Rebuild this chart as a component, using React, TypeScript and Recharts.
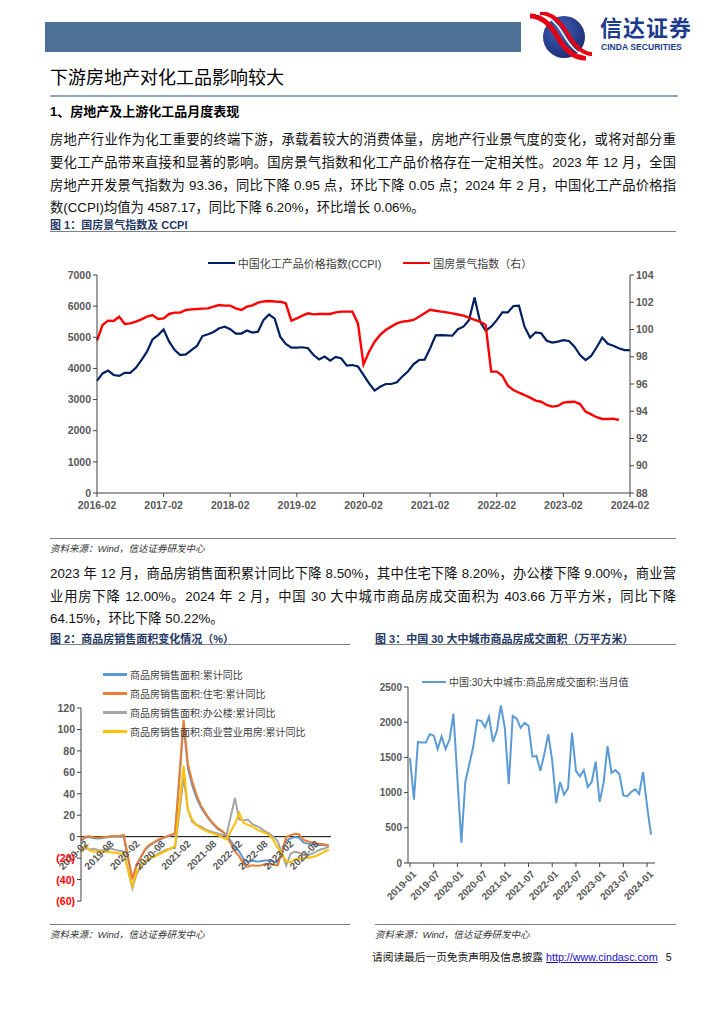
import React from 'react';
import { LineChart, Line, XAxis, YAxis, ReferenceLine } from 'recharts';

const SANS = '"Liberation Sans", Arial, "Noto Sans CJK SC", sans-serif';
const AXIS_TXT = '#595959';
const AXIS_LINE = '#404040';

function monthLabels(startYear: number, startMonth: number, count: number): string[] {
  const out: string[] = [];
  for (let k = 0; k < count; k++) {
    const t = startYear * 12 + (startMonth - 1) + k;
    const y = Math.floor(t / 12);
    const m = (t % 12) + 1;
    out.push(`${y}-${m < 10 ? '0' + m : m}`);
  }
  return out;
}

// ---------- Figure 1: CCPI & 国房景气指数 (2016-02 .. 2024-02) ----------
const fig1Months = monthLabels(2016, 2, 97);
const fig1Names = ['中国化工产品价格指数(CCPI)', '国房景气指数（右）'];
const ccpi = [
  3600, 3840, 3930, 3790, 3760, 3860, 3860, 4020, 4270, 4540, 4930, 5070,
  5250, 4860, 4590, 4430, 4450, 4590, 4720, 5040, 5100, 5170, 5290, 5340,
  5260, 5120, 5120, 5220, 5150, 5180, 5560, 5730, 5600, 5020, 4785, 4670,
  4670, 4680, 4650, 4430, 4290, 4380, 4250, 4370, 4320, 4090, 4110, 4060,
  3790, 3520, 3290, 3410, 3500, 3500, 3555, 3740, 3900, 4130, 4270, 4280,
  4650, 5060, 5070, 5060, 5050, 5260, 5340, 5550, 6280, 5500, 5210, 5340,
  5550, 5800, 5800, 6000, 6015, 5340, 4990, 5160, 5130, 4890, 4830, 4860,
  4910, 4880, 4700, 4430, 4270, 4400, 4680, 4990, 4790, 4730, 4650, 4590,
  4587,
];
const housingIndex = [
  99.18, 100.33, 100.65, 100.62, 100.94, 100.4, 100.45, 100.58, 100.75, 100.94, 101.06, 100.77,
  100.82, 101.14, 101.24, 101.24, 101.43, 101.48, 101.5, 101.53, 101.55, 101.68, 101.8, 101.75,
  101.75, 101.55, 101.43, 101.68, 101.77, 101.97, 102.06, 102.09, 102.06, 102.04, 101.92, 100.65,
  100.82, 101.02, 101.19, 101.11, 101.14, 101.14, 101.14, 101.26, 101.31, 101.31, 101.31, 100.45,
  97.44, 98.37, 99.11, 99.6, 99.96, 100.21, 100.45, 100.58, 100.62, 100.7, 100.94, 101.19,
  101.45, 101.38, 101.31, 101.26, 101.18, 101.1, 101.02, 100.87, 100.7, 100.58, 100.33, 96.91,
  96.91, 96.61, 95.88, 95.56, 95.36, 95.19, 95.0, 94.78, 94.7, 94.46, 94.34, 94.39,
  94.63, 94.68, 94.7, 94.53, 93.97, 93.77, 93.56, 93.43, 93.43, 93.46, 93.36, null,
  null,
];
const fig1LeftTicks = [0, 1000, 2000, 3000, 4000, 5000, 6000, 7000];
const fig1RightTicks = [88, 90, 92, 94, 96, 98, 100, 102, 104];
const fig1Data = fig1Months.map((m, i) => ({ m, ccpi: ccpi[i], idx: housingIndex[i] }));

// ---------- Figure 2: 商品房销售面积累计同比 (2019-02 .. 2023-12) ----------
const fig2Months = monthLabels(2019, 2, 59);
const fig2Names = [
  '商品房销售面积:累计同比',
  '商品房销售面积:住宅:累计同比',
  '商品房销售面积:办公楼:累计同比',
  '商品房销售面积:商业营业用房:累计同比',
];
const fig2Colors = ['#5B9BD5', '#ED7D31', '#A5A5A5', '#FFC000'];
const salesTotal = [
  -3.6, -0.9, -0.3, -1.6, -1.8, -1.3, -0.6, -0.1, 0.1, 0.2, -0.1,
  null, -39.9, -26.3, -19.3, -12.3, -8.4, -5.8, -3.3, -1.8, 0.0, 1.3, 2.6,
  null, 104.9, 63.8, 48.1, 36.3, 27.7, 21.5, 15.9, 11.3, 7.3, 4.8, 1.9,
  null, -9.6, -13.8, -20.9, -23.6, -22.2, -23.1, -23.0, -22.2, -22.3, -23.3, -24.3,
  null, -3.6, -1.8, -0.4, -0.9, -5.3, -6.5, -7.1, -7.5, -7.8, -8.0, -8.5,
];
const salesResidential = [
  -3.2, 0.0, 0.3, -0.6, -1.0, -0.6, 0.0, 0.5, 0.6, 0.6, 1.5,
  null, -39.2, -25.9, -19.3, -11.6, -7.6, -5.2, -2.9, -1.2, 0.3, 1.5, 3.2,
  null, 108.9, 67.8, 51.6, 39.1, 29.4, 22.8, 16.7, 12.0, 7.9, 5.3, 1.1,
  null, -13.8, -18.4, -25.5, -28.1, -26.6, -27.1, -26.8, -25.7, -25.5, -26.2, -26.8,
  null, -0.6, 1.4, 2.7, 2.3, -2.8, -4.3, -5.5, -6.3, -6.8, -7.3, -8.2,
];
const salesOffice = [
  -14.5, -10.8, -12.0, -11.4, -12.5, -13.0, -11.4, -11.0, -12.3, -13.2, -14.0,
  null, -48.3, -35.0, -28.1, -24.0, -21.0, -18.3, -16.0, -14.0, -12.0, -11.0, -10.4,
  null, 55.0, 25.0, 14.0, 11.0, 9.5, 7.0, 5.0, 4.0, 3.0, 1.5, 1.2,
  null, 36.0, 16.0, 15.0, 16.0, 12.0, 10.0, 8.0, 5.0, 3.0, 0.0, -4.0,
  null, -27.0, -16.0, -14.0, -15.0, -17.0, -17.0, -16.0, -14.0, -12.0, -11.0, -9.0,
];
const salesCommercial = [
  -14.0, -8.0, -12.5, -14.0, -13.5, -14.0, -14.0, -14.5, -15.0, -15.6, -16.0,
  null, -46.0, -33.0, -27.0, -23.0, -20.0, -19.0, -17.0, -15.0, -13.0, -11.0, -8.7,
  null, 66.0, 25.0, 16.0, 11.0, 8.0, 6.0, 4.0, 3.0, 1.5, -0.5, -2.6,
  null, 12.0, 22.0, 13.0, 11.0, 9.7, 7.0, 5.0, 3.5, 1.5, -3.0, -10.0,
  null, -23.0, -24.0, -21.0, -21.0, -20.0, -20.0, -19.0, -18.0, -16.0, -14.0, -12.0,
];
const fig2Ticks = [-60, -40, -20, 0, 20, 40, 60, 80, 100, 120];
const fig2Data = fig2Months.map((m, i) => ({
  m,
  s0: salesTotal[i],
  s1: salesResidential[i],
  s2: salesOffice[i],
  s3: salesCommercial[i],
}));

// ---------- Figure 3: 30大中城市商品房成交面积 (2019-01 .. 2024-02) ----------
const fig3Months = monthLabels(2019, 1, 62);
const fig3Name = '中国:30大中城市:商品房成交面积:当月值';
const area30 = [
  1490, 900, 1720, 1710, 1710, 1830, 1810, 1620, 1800, 1620, 1750, 2120,
  1200, 290, 1150, 1400, 1650, 2030, 2020, 1930, 2080, 1720, 1880, 2240,
  1920, 1120, 2090, 2050, 1920, 1990, 1950, 1510, 1520, 1310, 1550, 1830,
  1450, 850, 1150, 970, 1060, 1850, 1310, 1230, 1320, 1080, 1150, 1440,
  870, 1140, 1660, 1280, 1320, 1260, 960, 950, 1010, 1050, 980, 1290,
  811, 404,
];
const fig3Ticks = [0, 500, 1000, 1500, 2000, 2500];
const fig3Data = fig3Months.map((m, i) => ({ m, v: area30[i] }));

// ---------- layout constants ----------
const FIG2_TOP_MARGIN = 58;
const FIG2_PLOT_H = 193;
const FIG2_ZERO_OFFSET = (FIG2_PLOT_H * (0 - fig2Ticks[0])) / (fig2Ticks[fig2Ticks.length - 1] - fig2Ticks[0]);

const tickStyle = (size: number) => ({
  fontSize: size,
  fontWeight: 700,
  fill: AXIS_TXT,
  fontFamily: SANS,
});

const Fig2XTick = (props: any) => {
  const { x, y, payload } = props;
  return (
    <g transform={`translate(${x + 5},${y - FIG2_ZERO_OFFSET + 5})`}>
      <text textAnchor="end" transform="rotate(-45)" dy={4} {...tickStyle(10)}>
        {payload.value}
      </text>
    </g>
  );
};

const Fig2YTick = (props: any) => {
  const { x, y, payload } = props;
  const v = payload.value as number;
  const neg = v < 0;
  return (
    <text x={x} y={y} dy={4} textAnchor="end" {...tickStyle(10.5)} fill={neg ? '#FF0000' : AXIS_TXT}>
      {neg ? `(${Math.abs(v)})` : String(v)}
    </text>
  );
};

const Fig3XTick = (props: any) => {
  const { x, y, payload } = props;
  return (
    <g transform={`translate(${x + 4},${y + 5})`}>
      <text textAnchor="end" transform="rotate(-45)" dy={4} {...tickStyle(10)}>
        {payload.value}
      </text>
    </g>
  );
};

const abs = (left: number, top: number, extra: React.CSSProperties = {}): React.CSSProperties => ({
  position: 'absolute',
  left,
  top,
  ...extra,
});

const LegendItem = ({ color, label, w, size }: { color: string; label: string; w: number; size: number }) => (
  <span style={{ display: 'inline-flex', alignItems: 'center', whiteSpace: 'nowrap' }}>
    <span style={{ display: 'inline-block', width: w, height: 2.5, background: color, marginRight: 3 }} />
    <span style={{ fontSize: size, color: '#404040' }}>{label}</span>
  </span>
);

const Logo = () => (
  <svg width={70} height={50} style={abs(526, 12)}>
    <defs>
      <radialGradient id="logoG" cx="0.4" cy="0.35" r="0.8">
        <stop offset="0" stopColor="#3f62b5" />
        <stop offset="1" stopColor="#15246b" />
      </radialGradient>
      <clipPath id="logoC">
        <rect x="0" y="0" width="70" height="50" />
      </clipPath>
    </defs>
    <circle cx={38} cy={25} r={21} fill="url(#logoG)" />
    <g clipPath="url(#logoC)" fill="none" strokeLinecap="butt">
      <path d="M4,4 C16,4 24,12 31,24 C38,36 46,46 60,46" stroke="#e60012" strokeWidth={5} />
      <path d="M10,2 C22,2 30,10 37,22 C44,34 52,44 64,44" stroke="#fff" strokeWidth={1.5} />
      <path d="M14,1 C26,1 34,9 41,21 C48,33 56,42 66,42" stroke="#e60012" strokeWidth={4} />
    </g>
  </svg>
);

const paraLine = (top: number, text: string, justify = true) => (
  <div
    style={abs(50, top, {
      width: 626,
      fontSize: 13.3,
      lineHeight: '18px',
      whiteSpace: 'nowrap',
      textAlign: justify ? 'justify' : 'left',
      textAlignLast: justify ? 'justify' : 'auto',
      color: '#111',
    })}
  >
    {text}
  </div>
);

const hline = (left: number, top: number, width: number, color = '#808080', h = 1.3) => (
  <div style={abs(left, top, { width, height: h, background: color })} />
);

const source = (left: number, top: number) => (
  <div style={abs(left, top, { fontSize: 9.5, fontStyle: 'italic', color: '#333', whiteSpace: 'nowrap' })}>
    资料来源：Wind，信达证券研发中心
  </div>
);

const figTitle = (left: number, top: number, text: string) => (
  <div style={abs(left, top, { fontSize: 11, fontWeight: 700, color: '#1f3864', whiteSpace: 'nowrap' })}>{text}</div>
);

export default function App() {
  return (
    <div
      style={{
        position: 'absolute',
        left: 0,
        top: 0,
        width: 724,
        height: 1024,
        background: '#fff',
        fontFamily: SANS,
        overflow: 'hidden',
      }}
    >
      {/* header */}
      <div style={abs(45, 22, { width: 476, height: 30, background: '#4d7097' })} />
      <Logo />
      <div style={abs(600, 16, { fontSize: 22, fontWeight: 700, color: '#1e3c8c', letterSpacing: 1, lineHeight: '26px' })}>
        信达证券
      </div>
      <div style={abs(601, 42, { fontSize: 8.6, fontWeight: 700, color: '#1e3c8c', lineHeight: '10px', whiteSpace: 'nowrap' })}>
        CINDA SECURITIES
      </div>

      {/* title */}
      <div style={abs(50, 66, { fontSize: 18, color: '#000', lineHeight: '24px' })}>下游房地产对化工品影响较大</div>
      {hline(50, 95, 628, '#8fa4c4', 1.5)}
      <div style={abs(50, 103, { fontSize: 13, fontWeight: 700, color: '#000', lineHeight: '18px' })}>
        1、房地产及上游化工品月度表现
      </div>

      {paraLine(131, '房地产行业作为化工重要的终端下游，承载着较大的消费体量，房地产行业景气度的变化，或将对部分重')}
      {paraLine(154, '要化工产品带来直接和显著的影响。国房景气指数和化工产品价格存在一定相关性。2023 年 12 月，全国')}
      {paraLine(177, '房地产开发景气指数为 93.36，同比下降 0.95 点，环比下降 0.05 点；2024 年 2 月，中国化工产品价格指')}
      {paraLine(199, '数(CCPI)均值为 4587.17，同比下降 6.20%，环比增长 0.06%。', false)}

      {figTitle(50, 216, '图 1：国房景气指数及 CCPI')}
      {hline(50, 231, 626)}

      {/* figure 1 */}
      <div style={abs(0, 255, { width: 724, display: 'flex', justifyContent: 'center', gap: 22, paddingLeft: 8 })}>
        <LegendItem color="#002060" label={fig1Names[0]} w={27} size={11} />
        <LegendItem color="#FF0000" label={fig1Names[1]} w={27} size={11} />
      </div>
      <div style={abs(0, 240)}>
        <LineChart width={724} height={290} data={fig1Data} margin={{ top: 35, right: 44, bottom: 7, left: 47 }}>
          <XAxis
            dataKey="m"
            interval={11}
            tick={tickStyle(10.5)}
            tickSize={4}
            tickMargin={5}
            height={30}
            axisLine={{ stroke: AXIS_LINE }}
            tickLine={{ stroke: AXIS_LINE }}
          />
          <YAxis
            yAxisId="L"
            domain={[0, 7000]}
            ticks={fig1LeftTicks}
            interval={0}
            width={50}
            tick={tickStyle(10.5)}
            tickSize={4}
            axisLine={{ stroke: AXIS_LINE }}
            tickLine={{ stroke: AXIS_LINE }}
          />
          <YAxis
            yAxisId="R"
            orientation="right"
            domain={[88, 104]}
            ticks={fig1RightTicks}
            interval={0}
            width={50}
            tick={tickStyle(10.5)}
            tickSize={4}
            axisLine={{ stroke: AXIS_LINE }}
            tickLine={{ stroke: AXIS_LINE }}
          />
          <Line yAxisId="L" type="linear" dataKey="ccpi" stroke="#002060" strokeWidth={2.2} dot={false} isAnimationActive={false} />
          <Line yAxisId="R" type="linear" dataKey="idx" stroke="#FF0000" strokeWidth={2.4} dot={false} isAnimationActive={false} />
        </LineChart>
      </div>
      {hline(50, 538, 626)}
      {source(50, 541)}

      {paraLine(565, '2023 年 12 月，商品房销售面积累计同比下降 8.50%，其中住宅下降 8.20%，办公楼下降 9.00%，商业营')}
      {paraLine(588, '业用房下降  12.00%。2024  年  2  月，中国  30  大中城市商品房成交面积为  403.66  万平方米，同比下降')}
      {paraLine(610, '64.15%，环比下降 50.22%。', false)}

      {figTitle(50, 630, '图 2：商品房销售面积变化情况（%）')}
      {figTitle(375, 630, '图 3：中国 30 大中城市商品房成交面积（万平方米）')}
      {hline(50, 644, 300)}
      {hline(375, 644, 301)}

      {/* figure 2 */}
      <div style={abs(0, 650)}>
        <LineChart width={360} height={280} data={fig2Data} margin={{ top: FIG2_TOP_MARGIN, right: 29, bottom: 9, left: 31 }}>
          <XAxis
            dataKey="m"
            interval={5}
            tick={(p: any) => <Fig2XTick {...p} />}
            tickSize={0}
            tickMargin={0}
            tickLine={false}
            axisLine={false}
            height={20}
            padding={{ left: 0, right: 2 }}
          />
          <YAxis
            domain={[fig2Ticks[0], fig2Ticks[fig2Ticks.length - 1]]}
            ticks={fig2Ticks}
            interval={0}
            width={50}
            tick={(p: any) => <Fig2YTick {...p} />}
            tickSize={4}
            axisLine={{ stroke: AXIS_LINE }}
            tickLine={{ stroke: AXIS_LINE }}
          />
          <ReferenceLine y={0} stroke="#000" strokeWidth={1} />
          {['s0', 's1', 's2', 's3'].map((k, i) => (
            <Line
              key={k}
              type="linear"
              dataKey={k}
              stroke={fig2Colors[i]}
              strokeWidth={2}
              dot={false}
              connectNulls
              isAnimationActive={false}
            />
          ))}
        </LineChart>
      </div>
      <div style={abs(103, 667, { display: 'flex', flexDirection: 'column', gap: 4 })}>
        {fig2Names.map((n, i) => (
          <LegendItem key={n} color={fig2Colors[i]} label={n} w={24} size={10} />
        ))}
      </div>

      {/* figure 3 */}
      <div style={abs(360, 650)}>
        <LineChart width={300} height={280} data={fig3Data} margin={{ top: 37, right: 5, bottom: 7, left: 0 }}>
          <XAxis
            dataKey="m"
            interval={5}
            tick={(p: any) => <Fig3XTick {...p} />}
            tickSize={4}
            tickMargin={0}
            height={60}
            padding={{ left: 2, right: 4 }}
            axisLine={{ stroke: AXIS_LINE }}
            tickLine={{ stroke: AXIS_LINE }}
          />
          <YAxis
            domain={[0, 2500]}
            ticks={fig3Ticks}
            interval={0}
            width={48}
            tick={tickStyle(10)}
            tickSize={4}
            axisLine={{ stroke: AXIS_LINE }}
            tickLine={{ stroke: AXIS_LINE }}
          />
          <Line type="linear" dataKey="v" stroke="#5B9BD5" strokeWidth={2} dot={false} isAnimationActive={false} />
        </LineChart>
      </div>
      <div style={abs(422, 669)}>
        <LegendItem color="#5B9BD5" label={fig3Name} w={24} size={10} />
      </div>

      {hline(50, 924, 300)}
      {hline(375, 924, 301)}
      {source(50, 927)}
      {source(375, 927)}

      {/* footer */}
      <div style={abs(372, 949, { fontSize: 10.7, color: '#111', whiteSpace: 'nowrap' })}>
        请阅读最后一页免责声明及信息披露{' '}
        <span style={{ color: '#1a0dcc', textDecoration: 'underline' }}>http://www.cindasc.com</span>
        <span style={{ marginLeft: 8 }}>5</span>
      </div>
    </div>
  );
}
